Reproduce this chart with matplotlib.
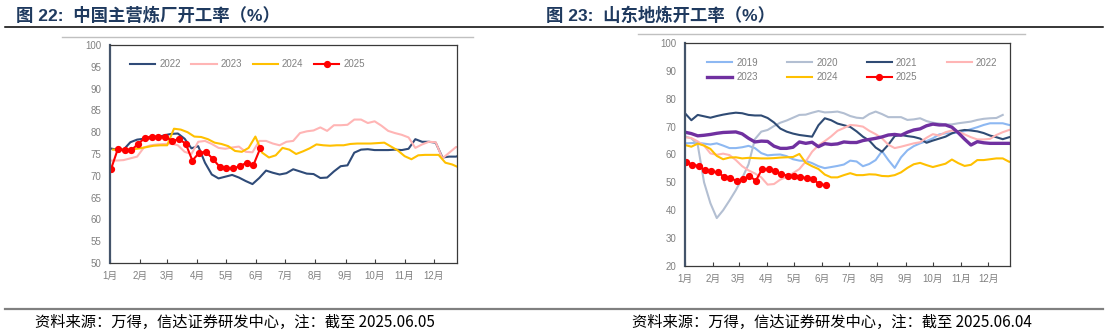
import matplotlib.pyplot as plt
from matplotlib.lines import Line2D

plt.rcParams['font.family'] = ['Liberation Sans', 'Noto Sans CJK SC', 'DejaVu Sans']

# month start positions (day of year) and labels
month_days = [0, 31, 59, 90, 120, 151, 181, 212, 243, 273, 304, 334]
month_labels = [f'{m}月' for m in range(1, 13)]

# ---- China major refineries, weekly utilisation (%)
cn_2022 = [76.3, 76.0, 76.0, 77.7, 78.3, 78.5, 78.6, 78.8, 79.3, 79.6, 79.7, 78.5, 76.3,
           76.8, 73.0, 70.3, 69.4, 69.8, 70.2, 69.6, 68.8, 68.1, 69.5, 71.2, 70.7, 70.3,
           70.6, 71.5, 71.0, 70.5, 70.4, 69.5, 69.6, 71.0, 72.2, 72.4, 75.3, 76.0, 76.1,
           75.9, 75.9, 75.9, 76.0, 75.9, 76.2, 78.4, 77.8, 77.8, 77.6, 74.2, 74.4, 74.4, 75.0]
cn_2023 = [73.5, 73.5, 73.6, 74.0, 74.4, 76.5, 77.0, 77.2, 77.3, 77.4, 77.0, 75.5, 75.0,
           77.8, 78.0, 77.3, 76.4, 76.2, 76.5, 76.7, 75.5, 75.4, 78.0, 78.0, 77.4, 77.0,
           77.8, 78.0, 79.8, 80.2, 80.4, 81.1, 80.3, 81.6, 81.6, 81.7, 82.9, 82.9, 82.1,
           82.5, 81.5, 80.3, 79.8, 79.4, 78.8, 76.4, 77.2, 77.8, 77.7, 74.0, 75.3, 76.6, 76.6]
cn_2024 = [76.0, 76.0, 76.0, 76.1, 76.3, 76.6, 76.9, 77.0, 77.0, 80.8, 80.6, 80.0, 79.0,
           78.9, 78.4, 77.6, 77.3, 76.8, 75.7, 75.5, 76.4, 79.0, 75.3, 74.2, 74.7, 76.4,
           76.0, 75.0, 75.6, 76.3, 77.2, 77.0, 76.9, 77.0, 77.0, 77.3, 77.4, 77.4, 77.4,
           77.5, 77.6, 76.7, 75.8, 74.5, 73.8, 74.7, 74.8, 74.8, 74.8, 73.0, 72.6, 71.9]
cn_2025 = [71.5, 76.1, 75.9, 75.9, 77.3, 78.7, 79.0, 79.0, 79.0, 78.0, 78.4, 77.4, 73.5,
           75.3, 75.5, 73.9, 72.1, 71.7, 71.7, 72.2, 73.0, 72.5, 76.3]

# ---- Shandong independent refineries, weekly utilisation (%)
sd_2019 = [64.0, 64.1, 64.2, 63.9, 63.6, 64.0, 63.2, 62.3, 62.3, 62.6, 63.1, 62.3, 60.5,
           59.7, 59.9, 60.0, 59.4, 58.3, 57.8, 57.7, 56.9, 55.8, 55.1, 55.5, 55.9, 56.4,
           57.8, 57.5, 55.8, 56.6, 58.0, 61.2, 58.0, 55.2, 59.0, 61.5, 63.0, 64.0, 64.8,
           65.8, 67.2, 67.6, 67.6, 67.9, 68.4, 69.1, 69.8, 70.6, 71.2, 71.2, 71.2, 70.6]
sd_2020 = [66.5, 65.8, 63.5, 50.0, 42.5, 37.2, 40.0, 43.5, 47.2, 51.5, 56.5, 65.5, 68.2,
           68.8, 70.2, 71.4, 72.2, 73.2, 74.2, 74.3, 75.0, 75.6, 75.1, 75.2, 75.4, 74.8,
           73.8, 73.2, 73.0, 74.5, 75.4, 74.5, 73.4, 73.4, 73.4, 72.4, 72.6, 73.0, 72.0,
           71.4, 71.1, 70.8, 70.8, 71.2, 71.5, 71.8, 72.4, 72.8, 73.0, 73.1, 74.2]
sd_2021 = [74.8, 72.3, 74.2, 73.7, 73.2, 73.8, 74.3, 74.7, 75.0, 74.8, 74.2, 74.0, 74.0,
           73.1, 71.5, 69.3, 68.2, 67.5, 67.0, 66.7, 66.4, 70.5, 73.0, 72.3, 71.1, 70.5,
           69.9, 68.3, 66.4, 65.0, 62.5, 61.0, 63.5, 66.6, 67.0, 66.6, 66.3, 65.7, 64.2,
           65.0, 65.7, 66.4, 67.6, 68.4, 68.8, 68.6, 68.3, 67.7, 66.8, 66.2, 65.5, 66.2]
sd_2022 = [66.2, 65.9, 64.7, 63.2, 60.4, 59.9, 60.3, 59.8, 58.0, 55.8, 54.3, 53.2, 51.8,
           49.2, 49.4, 51.0, 52.0, 53.3, 54.8, 57.5, 61.0, 63.3, 64.8, 66.5, 68.5, 69.5,
           70.6, 70.4, 70.0, 68.5, 67.3, 65.8, 63.5, 62.3, 62.8, 63.4, 64.0, 64.4, 66.0,
           67.3, 66.8, 68.0, 68.6, 68.2, 67.2, 66.2, 65.4, 65.4, 65.6, 67.0, 68.0, 68.8]
sd_2023 = [68.0, 67.5, 66.7, 66.9, 67.2, 67.6, 67.9, 68.0, 68.1, 67.4, 65.8, 64.5, 64.8,
           64.7, 63.0, 62.2, 62.2, 62.6, 64.5, 64.0, 64.4, 62.8, 63.9, 63.6, 63.8, 64.5,
           64.3, 64.3, 65.0, 65.4, 65.8, 66.3, 67.0, 67.2, 66.9, 68.0, 68.8, 69.2, 70.3,
           70.9, 70.6, 70.6, 69.8, 67.8, 65.5, 63.4, 64.6, 64.2, 64.0, 64.0, 64.0, 64.0, 63.8]
sd_2024 = [63.4, 62.8, 63.9, 63.2, 62.0, 59.5, 58.3, 58.9, 59.0, 58.6, 58.8, 58.7, 58.6,
           58.6, 58.7, 58.9, 59.0, 59.1, 60.2, 57.0, 55.8, 54.8, 52.8, 51.8, 51.8, 52.6,
           53.3, 52.6, 52.6, 52.9, 52.8, 52.3, 52.2, 52.6, 53.6, 55.2, 56.5, 57.0, 56.2,
           55.5, 56.1, 56.7, 58.2, 56.9, 55.9, 56.3, 58.0, 58.0, 58.3, 58.6, 58.6, 57.4, 57.2]
sd_2025 = [57.4, 56.4, 55.9, 54.3, 54.0, 53.6, 52.0, 51.7, 50.4, 51.2, 52.3, 50.6, 54.8,
           54.7, 54.2, 53.0, 52.4, 52.4, 52.0, 51.5, 51.1, 49.4, 49.0]

NAVY = '#2F4B78'
PINK = '#FFB5B5'
GOLD = '#FFC000'
RED = '#FF0000'
TICK_GRAY = '#808080'
TITLE_COLOR = '#1F3A5F'


def weeks(vals, start=0):
    return [start + 7 * i for i in range(len(vals))]


def style_axes(ax, ylo, yhi, ystep):
    ax.set_xlim(0, 358)
    ax.set_ylim(ylo, yhi)
    ax.set_yticks(range(ylo, yhi + 1, ystep))
    ax.set_xticks(month_days)
    ax.set_xticklabels(month_labels)
    ax.tick_params(axis='y', length=0, labelsize=7, colors=TICK_GRAY, pad=6)
    ax.tick_params(axis='x', direction='in', length=3, width=0.8, color='#404040',
                   labelsize=7, labelcolor=TICK_GRAY, pad=6)
    for side in ('top', 'right', 'bottom'):
        ax.spines[side].set_color('#3a3a3a')
        ax.spines[side].set_linewidth(0.9)
    ax.spines['left'].set_color('#44546A')
    ax.spines['left'].set_linewidth(1.6)


fig = plt.figure(figsize=(11.08, 3.35), dpi=100)

# header / footer rules
fig.add_artist(Line2D([5 / 1108, 1103 / 1108], [1 - 26.5 / 335] * 2, color='black', lw=1.1))
fig.add_artist(Line2D([62 / 1108, 473 / 1108], [1 - 37 / 335] * 2, color='#C0C0C0', lw=1.0))
fig.add_artist(Line2D([638 / 1108, 1025 / 1108], [1 - 34 / 335] * 2, color='#C0C0C0', lw=1.0))
fig.add_artist(Line2D([5 / 1108, 1103 / 1108], [1 - 309 / 335] * 2, color='#808080', lw=1.6))

title_font = ['Liberation Sans', 'Noto Sans CJK SC']
fig.text(16 / 1108, 1 - 15 / 335, '图 22:  中国主营炼厂开工率（%）', fontsize=12.5, fontweight='bold',
         color=TITLE_COLOR, va='center', ha='left', family=title_font)
fig.text(546 / 1108, 1 - 15 / 335, '图 23:  山东地炼开工率（%）', fontsize=12.5, fontweight='bold',
         color=TITLE_COLOR, va='center', ha='left', family=title_font)

foot_font = ['Noto Sans CJK SC', 'Liberation Sans']
fig.text(35 / 1108, 1 - 322 / 335, '资料来源：万得，信达证券研发中心，注：截至 2025.06.05', fontsize=11,
         style='italic', color='black', va='center', ha='left', family=foot_font)
fig.text(632 / 1108, 1 - 322 / 335, '资料来源：万得，信达证券研发中心，注：截至 2025.06.04', fontsize=11,
         style='italic', color='black', va='center', ha='left', family=foot_font)

# ---- left chart
ax1 = fig.add_axes([110 / 1108, 1 - 263 / 335, 347 / 1108, 218 / 335])
ax1.plot(weeks(cn_2022), cn_2022, color=NAVY, lw=1.5, label='2022')
ax1.plot(weeks(cn_2023), cn_2023, color=PINK, lw=1.5, label='2023')
ax1.plot(weeks(cn_2024, 3), cn_2024, color=GOLD, lw=1.5, label='2024')
ax1.plot(weeks(cn_2025, 1), cn_2025, color=RED, lw=1.5, marker='o', markersize=4.2, label='2025')
style_axes(ax1, 50, 100, 5)
ax1.legend(loc='center left', bbox_to_anchor=(130 / 1108, 1 - 64 / 335),
           bbox_transform=fig.transFigure, ncol=4, frameon=False, fontsize=7,
           handlelength=2.6, handletextpad=0.4, columnspacing=1.1, borderpad=0,
           borderaxespad=0, labelcolor=TICK_GRAY)

# ---- right chart
ax2 = fig.add_axes([685 / 1108, 1 - 266 / 335, 325 / 1108, 223 / 335])
l19, = ax2.plot(weeks(sd_2019), sd_2019, color='#8DB8F2', lw=1.5, label='2019')
l20, = ax2.plot(weeks(sd_2020), sd_2020, color='#B3BFD2', lw=1.5, label='2020')
l21, = ax2.plot(weeks(sd_2021), sd_2021, color='#2F4B74', lw=1.5, label='2021')
l22, = ax2.plot(weeks(sd_2022), sd_2022, color=PINK, lw=1.5, label='2022')
l23, = ax2.plot(weeks(sd_2023), sd_2023, color='#7030A0', lw=2.4, label='2023')
l24, = ax2.plot(weeks(sd_2024), sd_2024, color=GOLD, lw=1.5, label='2024')
l25, = ax2.plot(weeks(sd_2025, 1), sd_2025, color=RED, lw=1.5, marker='o', markersize=4.2,
                label='2025')
style_axes(ax2, 20, 100, 10)
# column-major fill, so order handles to read row by row
handles = [l19, l23, l20, l24, l21, l25, l22]
ax2.legend(handles=handles, labels=[h.get_label() for h in handles],
           loc='center left', bbox_to_anchor=(707 / 1108, 1 - 70 / 335),
           bbox_transform=fig.transFigure, ncol=4, frameon=False, fontsize=7,
           handlelength=2.6, handletextpad=0.4, columnspacing=3.0, labelspacing=0.5,
           borderpad=0, borderaxespad=0, labelcolor=TICK_GRAY)

fig.savefig('out.png', dpi=100)
